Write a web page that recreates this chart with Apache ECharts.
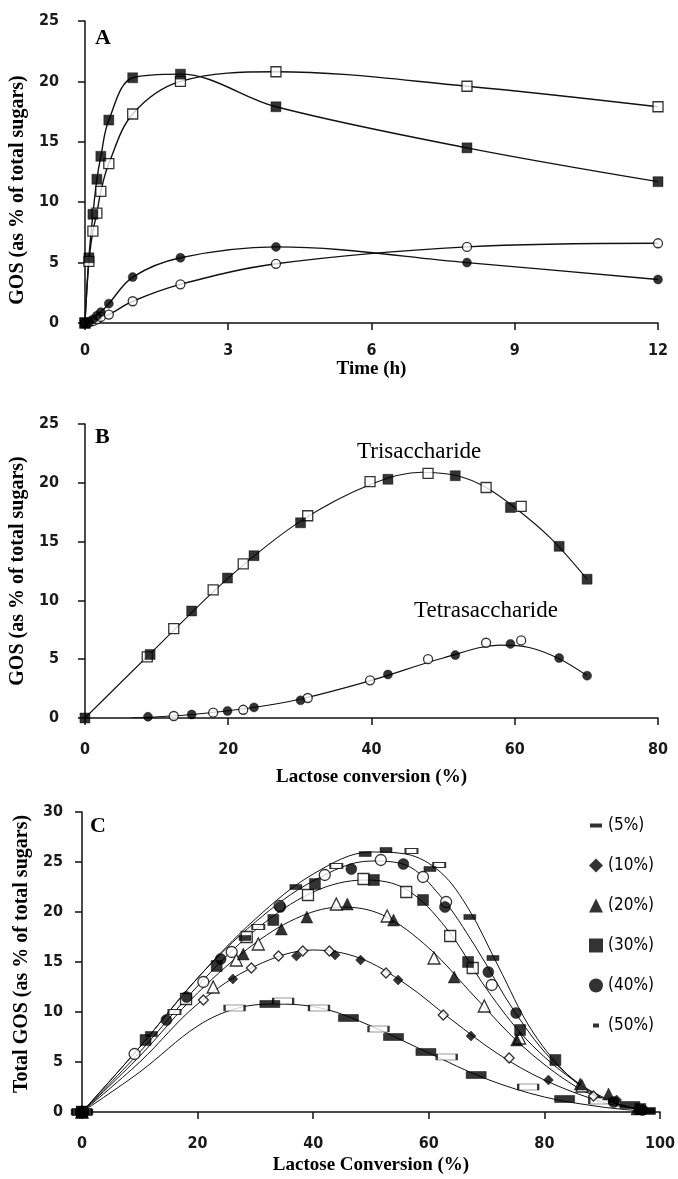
<!DOCTYPE html>
<html>
<head>
<meta charset="utf-8">
<script src="https://cdn.jsdelivr.net/npm/echarts@6/dist/echarts.min.js"></script>
<style>
  html, body { margin: 0; padding: 0; background: #fff; }
  #main { width: 678px; height: 1179px; }
</style>
</head>
<body>
<div id="main"></div>
<script>
// ---- Panel A: GOS vs time (h) ----
const aTriFilled = [[0, 0], [0.083, 5.4], [0.167, 9.0], [0.25, 11.9], [0.333, 13.8], [0.5, 16.8], [1, 20.3], [2, 20.6], [4, 17.9], [8, 14.5], [12, 11.7]];
const aTriOpen = [[0, 0], [0.083, 5.1], [0.167, 7.6], [0.25, 9.1], [0.333, 10.9], [0.5, 13.2], [1, 17.3], [2, 20.0], [4, 20.8], [8, 19.6], [12, 17.9]];
const aTetraFilled = [[0, 0], [0.083, 0.1], [0.167, 0.3], [0.25, 0.6], [0.333, 0.9], [0.5, 1.6], [1, 3.8], [2, 5.4], [4, 6.3], [8, 5.0], [12, 3.6]];
const aTetraOpen = [[0, 0], [0.083, 0.05], [0.167, 0.15], [0.25, 0.3], [0.333, 0.5], [0.5, 0.7], [1, 1.8], [2, 3.2], [4, 4.9], [8, 6.3], [12, 6.6]];

// ---- Panel B: GOS vs lactose conversion (%) ----
const bTriFilled = [[0, 0], [9.1, 5.4], [14.9, 9.1], [19.9, 11.9], [23.6, 13.8], [30.1, 16.6], [42.3, 20.3], [51.7, 20.6], [59.4, 17.9], [66.2, 14.6], [70.1, 11.8]];
const bTriOpen = [[8.7, 5.2], [12.4, 7.6], [17.9, 10.9], [22.1, 13.1], [31.1, 17.2], [39.8, 20.1], [47.9, 20.8], [56.0, 19.6], [60.9, 18.0]];
const bTetraFilled = [[8.8, 0.1], [14.9, 0.3], [19.9, 0.6], [23.6, 0.9], [30.1, 1.5], [42.3, 3.7], [51.7, 5.35], [59.4, 6.3], [66.2, 5.1], [70.1, 3.6]];
const bTetraOpen = [[12.4, 0.17], [17.9, 0.45], [22.1, 0.7], [31.1, 1.7], [39.8, 3.2], [47.9, 5.0], [56.0, 6.4], [60.9, 6.6]];
const bTriCurve = [[0, 0], [10, 6.0], [20, 11.9], [30, 16.7], [40, 19.9], [47, 20.9], [52, 20.6], [56, 19.6], [60, 17.9], [65, 15.3], [70.1, 11.8]];
const bTetraCurve = [[6.5, 0], [15, 0.3], [23, 0.85], [30, 1.6], [40, 3.2], [50, 5.1], [58, 6.2], [62, 6.0], [66, 5.1], [70.1, 3.6]];

// ---- Panel C: total GOS vs lactose conversion, by concentration ----
const concLabels = ['(5%)', '(10%)', '(20%)', '(30%)', '(40%)', '(50%)'];
const c5Filled = [[0, 0], [32.5, 10.8], [46.1, 9.4], [53.9, 7.5], [59.5, 6.0], [68.2, 3.7], [83.5, 1.3], [94.8, 0.7], [97.5, 0.1]];
const c5Open = [[0, 0], [26.4, 10.4], [34.8, 11.1], [41.0, 10.4], [51.3, 8.3], [63.1, 5.5], [77.2, 2.5], [89.5, 1.1]];
const c10Filled = [[0, 0], [26.1, 13.3], [37.1, 15.6], [43.8, 15.7], [48.2, 15.2], [54.7, 13.2], [67.3, 7.6], [80.7, 3.2], [92.5, 1.2], [97, 0.2]];
const c10Open = [[0, 0], [21, 11.2], [29.3, 14.4], [34.0, 15.6], [38.2, 16.1], [42.8, 16.1], [52.6, 13.9], [62.5, 9.7], [73.9, 5.4], [88.5, 1.6]];
const c20Filled = [[0, 0], [27.9, 15.8], [34.5, 18.3], [38.9, 19.5], [45.9, 20.8], [53.9, 19.2], [64.4, 13.5], [75.2, 7.2], [86.2, 2.8], [91.1, 1.8], [96, 0.3]];
const c20Open = [[0, 0], [22.7, 12.5], [26.7, 15.2], [30.5, 16.8], [44.0, 20.8], [52.8, 19.6], [60.9, 15.4], [69.6, 10.6], [75.7, 7.4], [86.5, 2.6]];
const c30Filled = [[0, 0], [11, 7.2], [23.3, 14.6], [33.1, 19.2], [40.3, 22.8], [50.5, 23.2], [59, 21.2], [66.8, 15.0], [75.8, 8.2], [81.9, 5.2], [96.6, 0.3]];
const c30Open = [[0, 0], [18, 11.3], [28.5, 17.5], [39.1, 21.7], [48.7, 23.3], [56.1, 22.0], [63.7, 17.6], [67.6, 14.4]];
const c40Filled = [[0, 0], [14.6, 9.2], [18.1, 11.5], [24, 15.3], [34.3, 20.5], [46.6, 24.3], [55.6, 24.8], [62.8, 20.5], [70.3, 14.0], [75.1, 9.9], [92, 1.0], [97, 0.2]];
const c40Open = [[0, 0], [9.1, 5.8], [21, 13.0], [25.9, 16.0], [34.2, 20.6], [42, 23.7], [51.7, 25.2], [59, 23.5], [63, 21.0], [70.9, 12.7]];
const c50Filled = [[0, 0], [12, 7.8], [28.2, 17.4], [37, 22.5], [49, 25.8], [52.6, 26.2], [60.2, 24.3], [67.1, 19.5], [71.1, 15.4], [98, 0.1]];
const c50Open = [[0, 0], [16, 10.0], [30.5, 18.5], [44, 24.6], [57, 26.1], [61.8, 24.7]];
// fitted curves
const c5Curve = [[0, 0], [10, 4.0], [20, 8.6], [27, 10.4], [34, 10.8], [42, 10.3], [50, 8.6], [60, 5.9], [70, 3.3], [80, 1.5], [90, 0.5], [97, 0.1]];
const c10Curve = [[0, 0], [10, 5.0], [20, 10.8], [30, 14.6], [40, 16.2], [48, 15.4], [56, 12.8], [64, 9.2], [72, 5.8], [80, 3.2], [90, 1.0], [97, 0.2]];
const c20Curve = [[0, 0], [10, 5.6], [20, 11.9], [30, 16.9], [38, 19.6], [45, 20.5], [52, 19.7], [60, 16.4], [68, 11.5], [76, 6.7], [85, 2.7], [92, 0.9], [97, 0.2]];
const c30Curve = [[0, 0], [10, 6.0], [20, 12.6], [30, 18.2], [40, 22.0], [49, 23.2], [56, 22.3], [63, 18.4], [70, 12.3], [77, 7.2], [85, 3.2], [92, 1.0], [97, 0.2]];
const c40Curve = [[0, 0], [10, 6.5], [20, 13.4], [30, 19.0], [40, 23.1], [50, 25.1], [56, 24.7], [62, 21.6], [68, 16.6], [75, 9.9], [82, 4.8], [90, 1.4], [97, 0.2]];
const c50Curve = [[0, 0], [10, 6.5], [20, 13.4], [30, 19.3], [40, 23.8], [50, 26.0], [56, 25.8], [62, 24.0], [67, 20.2], [72, 14.6], [78, 8.0], [85, 3.2], [91, 1.1], [97, 0.2]];

const INK = '#000';
const tickFont = "'DejaVu Sans Condensed', 'DejaVu Sans', sans-serif";
const serif = "'Liberation Serif', 'DejaVu Serif', serif";

function axisBase(extra) {
  return Object.assign({
    type: 'value',
    axisLine: { show: true, onZero: false, lineStyle: { color: '#111', width: 1.5 } },
    axisTick: { show: true, length: 7, lineStyle: { color: '#111', width: 1.5 } },
    splitLine: { show: false },
    nameLocation: 'middle',
    nameTextStyle: { fontFamily: serif, fontWeight: 'bold', fontSize: 20, color: INK }
  }, extra);
}
function lbl(margin) {
  return { fontFamily: tickFont, fontSize: 16, fontWeight: 'bold', color: '#1a1a1a', margin: margin };
}

function curve(name, data, xi, w) {
  return {
    name: name, type: 'line', xAxisIndex: xi, yAxisIndex: xi, data: data,
    smooth: 0.35, symbol: 'none', silent: true, z: 1,
    lineStyle: { color: '#111', width: w || 1.2 }
  };
}
function pts(name, data, xi, symbol, size, open) {
  return {
    name: name, type: 'scatter', xAxisIndex: xi, yAxisIndex: xi, data: data,
    symbol: symbol, symbolSize: size, z: open ? 3 : 4,
    itemStyle: open ? { color: '#fff', borderColor: INK, borderWidth: 1.3 } : { color: INK, borderColor: INK, borderWidth: 0.5 }
  };
}

const wideDash = 'path://M0,0M14,14M1,5H13V9H1Z';
const smallDash = 'path://M0,0M14,14M4,5H10V9H4Z';

const option = {
  backgroundColor: '#fff',
  animation: false,
  grid: [
    { left: 76, right: 20, top: 21, height: 302 },
    { left: 76, right: 20, top: 424, height: 294 },
    { left: 82, right: 18, top: 812, height: 300 }
  ],
  title: [
    { text: 'A', left: 90, top: 22, textStyle: { fontFamily: serif, fontWeight: 'bold', fontSize: 22, color: INK } },
    { text: 'B', left: 90, top: 421, textStyle: { fontFamily: serif, fontWeight: 'bold', fontSize: 22, color: INK } },
    { text: 'C', left: 85, top: 810, textStyle: { fontFamily: serif, fontWeight: 'bold', fontSize: 22, color: INK } }
  ],
  xAxis: [
    axisBase({ gridIndex: 0, min: 0, max: 12, interval: 3, name: 'Time (h)', nameGap: 37, axisLabel: lbl(20),
      nameTextStyle: { fontFamily: serif, fontWeight: 'bold', fontSize: 19, color: INK } }),
    axisBase({ gridIndex: 1, min: 0, max: 80, interval: 20, name: 'Lactose conversion (%)', nameGap: 50, axisLabel: lbl(24),
      nameTextStyle: { fontFamily: serif, fontWeight: 'bold', fontSize: 19, color: INK } }),
    axisBase({ gridIndex: 2, min: 0, max: 100, interval: 20, name: 'Lactose Conversion (%)', nameGap: 44, axisLabel: lbl(24),
      nameTextStyle: { fontFamily: serif, fontWeight: 'bold', fontSize: 19, color: INK } })
  ],
  yAxis: [
    axisBase({ gridIndex: 0, min: 0, max: 25, interval: 5, name: 'GOS (as % of total sugars)', nameGap: 42, axisLabel: lbl(26),
      nameTextStyle: { fontFamily: serif, fontWeight: 'bold', fontSize: 20, color: INK, padding: [0, 36, 0, 0] } }),
    axisBase({ gridIndex: 1, min: 0, max: 25, interval: 5, name: 'GOS (as % of total sugars)', nameGap: 42, axisLabel: lbl(26) }),
    axisBase({ gridIndex: 2, min: 0, max: 30, interval: 5, name: 'Total GOS (as % of total sugars)', nameGap: 48, axisLabel: lbl(19),
      nameTextStyle: { fontFamily: serif, fontWeight: 'bold', fontSize: 20, color: INK, padding: [0, 0, 0, 16] } })
  ],
  legend: {
    orient: 'vertical', left: 584, top: 812, itemWidth: 14, itemHeight: 14, itemGap: 23,
    itemStyle: { borderWidth: 0 },
    textStyle: { fontFamily: tickFont, fontSize: 17, color: INK },
    data: [
      { name: concLabels[0], icon: wideDash },
      { name: concLabels[1], icon: 'diamond' },
      { name: concLabels[2], icon: 'triangle' },
      { name: concLabels[3], icon: 'rect' },
      { name: concLabels[4], icon: 'circle' },
      { name: concLabels[5], icon: smallDash }
    ]
  },
  graphic: [
    { type: 'text', left: 357, top: 440, style: { text: 'Trisaccharide', font: '23px ' + serif, fill: INK } },
    { type: 'text', left: 414, top: 599, style: { text: 'Tetrasaccharide', font: '23px ' + serif, fill: INK } }
  ],
  series: [
    // A
    curve('aTriF', aTriFilled, 0, 1.4), curve('aTriO', aTriOpen, 0, 1.4),
    curve('aTetF', aTetraFilled, 0, 1.4), curve('aTetO', aTetraOpen, 0, 1.4),
    pts('aTriO_p', aTriOpen, 0, 'rect', 10, true), pts('aTriF_p', aTriFilled, 0, 'rect', 10, false),
    pts('aTetO_p', aTetraOpen, 0, 'circle', 9, true), pts('aTetF_p', aTetraFilled, 0, 'circle', 9, false),
    // B
    curve('bTri', bTriCurve, 1, 1.1), curve('bTet', bTetraCurve, 1, 1.1),
    pts('bTriO', bTriOpen, 1, 'rect', 10, true), pts('bTriF', bTriFilled, 1, 'rect', 10, false),
    pts('bTetO', bTetraOpen, 1, 'circle', 9, true), pts('bTetF', bTetraFilled, 1, 'circle', 9, false),
    // C curves
    curve('c5c', c5Curve, 2, 1), curve('c10c', c10Curve, 2, 1), curve('c20c', c20Curve, 2, 1),
    curve('c30c', c30Curve, 2, 1), curve('c40c', c40Curve, 2, 1), curve('c50c', c50Curve, 2, 1),
    // C points
    pts('c5o', c5Open, 2, 'rect', [20, 6], true), pts(concLabels[0], c5Filled, 2, 'rect', [20, 7], false),
    pts('c10o', c10Open, 2, 'diamond', 10, true), pts(concLabels[1], c10Filled, 2, 'diamond', 10, false),
    pts('c20o', c20Open, 2, 'triangle', 12, true), pts(concLabels[2], c20Filled, 2, 'triangle', 12, false),
    pts('c30o', c30Open, 2, 'rect', 11, true), pts(concLabels[3], c30Filled, 2, 'rect', 11, false),
    pts('c40o', c40Open, 2, 'circle', 11, true), pts(concLabels[4], c40Filled, 2, 'circle', 11, false),
    pts('c50o', c50Open, 2, 'rect', [12, 5], true), pts(concLabels[5], c50Filled, 2, 'rect', [12, 5], false)
  ]
};

const myChart = echarts.init(document.getElementById('main'), null, { renderer: 'canvas' });
myChart.setOption(option);
</script>
</body>
</html>
